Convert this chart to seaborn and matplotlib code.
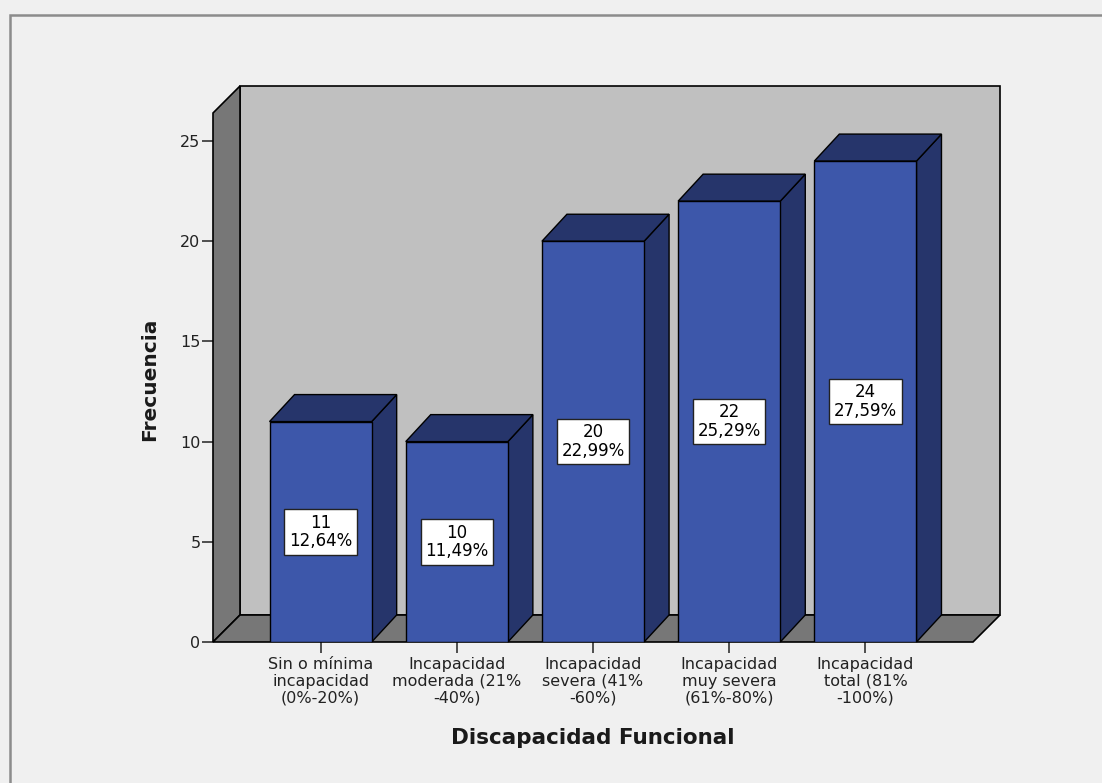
import matplotlib
matplotlib.use("Agg")
import matplotlib.pyplot as plt
import seaborn as sns
import pandas as pd
from matplotlib.patches import Polygon, Rectangle

# Data
categories = [
    "Sin o mínima\nincapacidad\n(0%-20%)",
    "Incapacidad\nmoderada (21%\n-40%)",
    "Incapacidad\nsevera (41%\n-60%)",
    "Incapacidad\nmuy severa\n(61%-80%)",
    "Incapacidad\ntotal (81%\n-100%)",
]
frequencies = [11, 10, 20, 22, 24]
percentages = [12.64, 11.49, 22.99, 25.29, 27.59]
y_ticks = [0, 5, 10, 15, 20, 25]

# Styling
BG = "#f0f0f0"
FRONT = "#3d57aa"
SHADE = "#26356b"
BACK_WALL = "#c0c0c0"
SIDE_WALL = "#777777"
INK = "#1a1a1a"

sns.set_theme(style="white")
plt.rcParams["font.family"] = ["DejaVu Sans"]

W, H = 1102, 783
fig = plt.figure(figsize=(W / 100, H / 100), dpi=100, facecolor=BG)

# outer frame (left and top edges visible)
fig.add_artist(Rectangle((10 / W, -0.2), 1.5, (1 - 15 / H) + 0.2,
                         transform=fig.transFigure, fill=False,
                         ec="#8c8c8c", lw=1.8))

# axes = front plane of the 3-D box
ax_left, ax_bottom, ax_w, ax_h = 213, 642, 760, 529   # pixels
ax = fig.add_axes([ax_left / W, (H - ax_bottom) / H, ax_w / W, ax_h / H])
ax.set_facecolor(BG)

df = pd.DataFrame({"cat": categories, "freq": frequencies})
sns.barplot(data=df, x="cat", y="freq", color=FRONT, saturation=1,
            width=0.75, edgecolor="black", linewidth=1.0, ax=ax, zorder=3)
bars = list(ax.patches)

xlim = (-0.79, 4.79)
ylim = (0, 26.4)
ax.set_xlim(*xlim)
ax.set_ylim(*ylim)

# pixel depth -> data units
xpp = (xlim[1] - xlim[0]) / ax_w
ypp = (ylim[1] - ylim[0]) / ax_h
wdx, wdy = 27 * xpp, 27 * ypp
bdx, bdy = 25 * xpp, 27 * ypp

x0, x1 = xlim
y0, y1 = ylim
wall_kw = dict(ec="black", lw=1.2, clip_on=False, joinstyle="miter")
ax.add_patch(Polygon([(x0 + wdx, y0 + wdy), (x1 + wdx, y0 + wdy),
                      (x1 + wdx, y1 + wdy), (x0 + wdx, y1 + wdy)],
                     fc=BACK_WALL, zorder=0.5, **wall_kw))
ax.add_patch(Polygon([(x0, y0), (x0 + wdx, y0 + wdy),
                      (x0 + wdx, y1 + wdy), (x0, y1)],
                     fc=SIDE_WALL, zorder=0.6, **wall_kw))
ax.add_patch(Polygon([(x0, y0), (x1, y0), (x1 + wdx, y0 + wdy),
                      (x0 + wdx, y0 + wdy)],
                     fc=SIDE_WALL, zorder=0.7, **wall_kw))

# bar sides, tops and value boxes
for p, f, pct in zip(bars, frequencies, percentages):
    bx, bw, h = p.get_x(), p.get_width(), p.get_height()
    side = Polygon([(bx + bw, 0), (bx + bw + bdx, bdy),
                    (bx + bw + bdx, h + bdy), (bx + bw, h)],
                   fc=SHADE, ec="black", lw=1.0, zorder=2.8, clip_on=False)
    top = Polygon([(bx, h), (bx + bdx, h + bdy),
                   (bx + bw + bdx, h + bdy), (bx + bw, h)],
                  fc=SHADE, ec="black", lw=1.0, zorder=2.9, clip_on=False)
    ax.add_patch(side)
    ax.add_patch(top)
    label = f"{f}\n{pct:.2f}%".replace(".", ",")
    ax.text(bx + bw / 2, h / 2, label, ha="center", va="center",
            multialignment="center", fontsize=12, linespacing=1.02,
            color="black", zorder=5,
            bbox=dict(boxstyle="square,pad=0.28", fc="white",
                      ec="#222222", lw=1.0))

sns.despine(ax=ax, left=True, bottom=True)

ax.set_yticks(y_ticks)
ax.tick_params(axis="y", left=True, length=8, width=1.2, color="#333333",
               pad=1, labelsize=11.5, labelcolor="#222222")
ax.tick_params(axis="x", bottom=True, length=8, width=1.2, color="#333333",
               pad=3, labelsize=11.5, labelcolor="#222222")
for lbl in ax.get_xticklabels():
    lbl.set_multialignment("center")
    lbl.set_linespacing(1.12)

ax.set_xlabel("Discapacidad Funcional", fontsize=15.5, fontweight="bold",
              color=INK, va="baseline")
ax.xaxis.set_label_coords(0.5, (ax_bottom - 744) / ax_h)
ax.set_ylabel("Frecuencia", fontsize=14.5, fontweight="bold", color=INK,
              ha="center", va="center")
ax.yaxis.set_label_coords((150 - ax_left) / ax_w, (ax_bottom - 379) / ax_h)

fig.savefig("out.png", dpi=100, facecolor=BG)
